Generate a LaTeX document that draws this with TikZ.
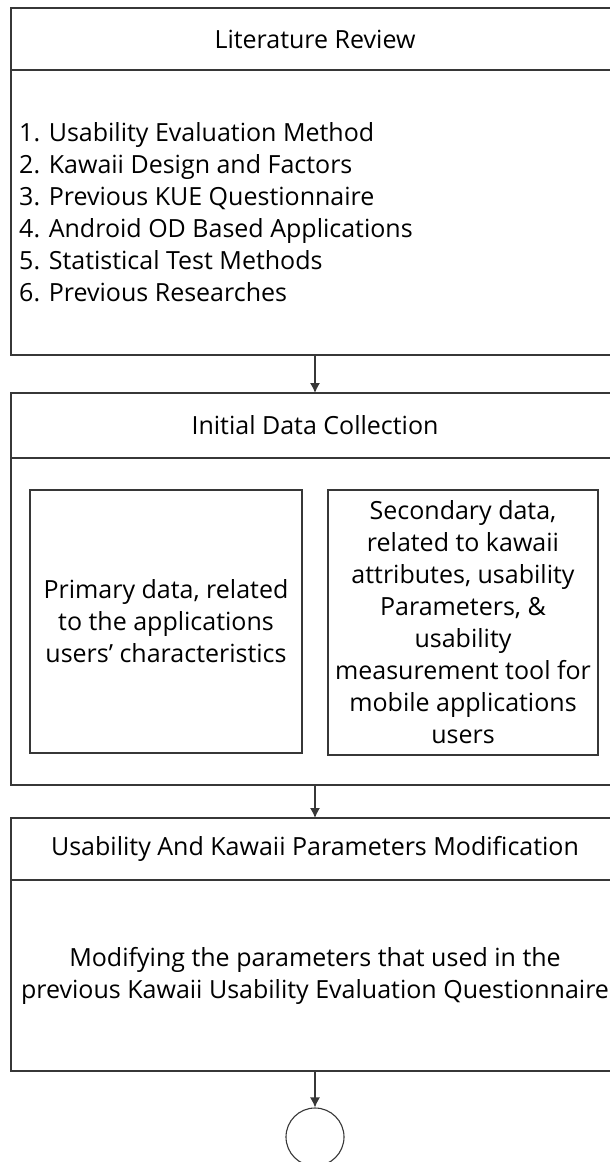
\documentclass[tikz,border=0pt]{standalone}
\usepackage{fontspec}
\setmainfont{Open Sans}
\usepackage{tikz}
\usetikzlibrary{arrows.meta,shapes,positioning,calc}
\usepackage{xcolor}
\definecolor{linegray}{RGB}{55,55,55}

\tikzset{
    headbox/.style={draw=linegray, line width=1.3pt, minimum width=608pt, inner sep=0pt, outer sep=0pt, font=\fontsize{25}{32}\selectfont},
    bodybox/.style={draw=linegray, line width=1.3pt, minimum width=608pt, inner sep=0pt, outer sep=0pt},
    innerbox/.style={draw=linegray, line width=1.1pt, inner sep=0pt, outer sep=0pt, align=center, font=\fontsize{25}{32}\selectfont},
    flowarrow/.style={draw=linegray, line width=1.3pt, -{Latex[length=10pt,width=10pt]}}
}

\begin{document}
\begin{tikzpicture}[x=1pt, y=-1pt]
    \useasboundingbox (0,0) rectangle (610,1162);
    \clip (0,0) rectangle (610,1162);

    \node[headbox, minimum height=62pt] (litHead) at (315,39) {Literature Review};
    \node[bodybox, minimum height=285pt] (litBody) at (315,212.5) {};
    \node[anchor=west, align=left, inner sep=0pt, font=\fontsize{25}{32}\selectfont] (litList) at (19,212) {
        1. Usability Evaluation Method \\
        2. Kawaii Design and Factors \\
        3. Previous KUE Questionnaire \\
        4. Android OD Based Applications \\
        5. Statistical Test Methods \\
        6. Previous Researches
    };

    \node[headbox, minimum height=65pt] (dataHead) at (315,425.5) {Initial Data Collection};
    \node[bodybox, minimum height=327pt] (dataBody) at (315,621.5) {};
    \node[innerbox, minimum width=272pt, minimum height=263pt] (primary) at (166,621.5) {
        Primary data, related \\
        to the applications \\
        users’ characteristics
    };
    \node[innerbox, minimum width=270pt, minimum height=265pt] (secondary) at (463,622.5) {
        Secondary data, \\
        related to kawaii \\
        attributes, usability \\
        Parameters, \& \\
        usability \\
        measurement tool for \\
        mobile applications \\
        users
    };

    \node[headbox, minimum height=62pt] (modHead) at (315,849) {Usability And Kawaii Parameters Modification};
    \node[bodybox, minimum height=191pt, align=center, font=\fontsize{25}{32}\selectfont] (modBody) at (315,975.5) {
        Modifying the parameters that used in the \\
        previous Kawaii Usability Evaluation Questionnaire
    };

    \node[circle, draw=linegray, line width=1.1pt, minimum size=58pt, inner sep=0pt] (connector) at (315,1137) {};

    \draw[flowarrow] (litBody.south) -- (dataHead.north);
    \draw[flowarrow] (dataBody.south) -- (modHead.north);
    \draw[flowarrow] (modBody.south) -- (connector.north);
\end{tikzpicture}
\end{document}
